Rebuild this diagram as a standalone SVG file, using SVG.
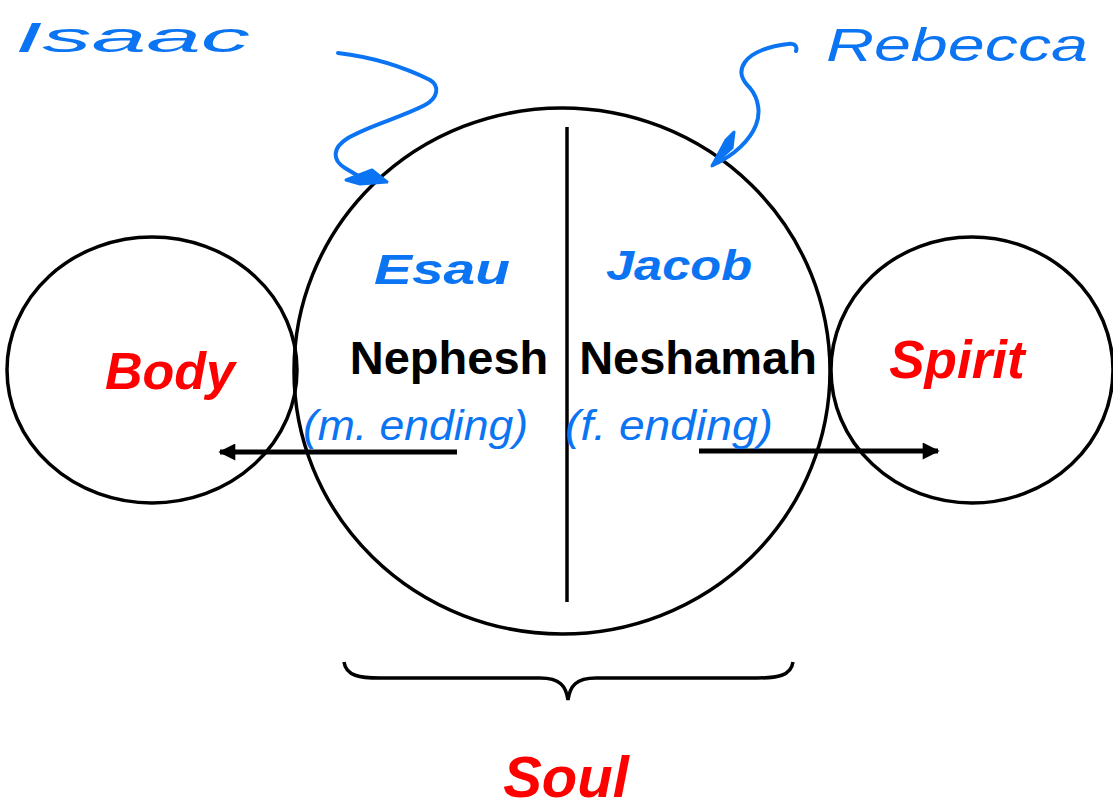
<svg xmlns="http://www.w3.org/2000/svg" width="1113" height="810" viewBox="0 0 1113 810">
<style>
.ring{fill:none;stroke:#000;stroke-width:3.5}
.lbl{font-family:"Liberation Sans",Arial,sans-serif;font-weight:bold;font-style:italic;fill:#ff0000}
.blk{font-family:"Liberation Sans",Arial,sans-serif;font-weight:bold;fill:#000}
.hand{font-family:"Liberation Sans",Arial,sans-serif;font-style:italic;fill:#0b74f2}
.ink{fill:none;stroke:#0b74f2;stroke-width:4;stroke-linecap:round;stroke-linejoin:round}
.conn{stroke:#000;stroke-width:5;fill:none}
</style>
<defs>
<marker id="ah" viewBox="0 0 10 10" refX="9" refY="5" markerWidth="4" markerHeight="3.4" orient="auto" markerUnits="strokeWidth">
<path d="M0,0 L10,5 L0,10 z" fill="#000"/>
</marker>
</defs>
<rect width="1113" height="810" fill="#fff"/>
<g id="body">
<ellipse class="ring" cx="152" cy="370" rx="145" ry="133"/>
<text class="lbl" x="170" y="389" font-size="52" text-anchor="middle">Body</text>
</g>
<g id="soul">
<ellipse class="ring" cx="562" cy="371" rx="268" ry="263"/>
<line x1="567" y1="127" x2="567" y2="602" stroke="#000" stroke-width="3.5"/>
<text class="blk" x="449" y="374" font-size="47" text-anchor="middle">Nephesh</text>
<text class="blk" x="698" y="374" font-size="47" text-anchor="middle">Neshamah</text>
<path d="M344,662 C346,676 360,678 380,678 L540,678 C560,678 566,686 568,700 C570,686 576,678 596,678 L757,678 C777,678 791,676 793,662" fill="none" stroke="#000" stroke-width="3.5"/>
<text class="lbl" x="566" y="797" font-size="58" text-anchor="middle">Soul</text>
</g>
<g id="spirit">
<ellipse class="ring" cx="972" cy="370" rx="141" ry="133"/>
<text class="lbl" x="957" y="378" font-size="53" text-anchor="middle">Spirit</text>
</g>
<g id="connectors">
<line class="conn" x1="457" y1="452" x2="220" y2="452" marker-end="url(#ah)"/>
<line class="conn" x1="699" y1="451" x2="938" y2="451" marker-end="url(#ah)"/>
</g>
<g id="annotations">
<text class="hand" x="15" y="52" font-size="42" textLength="235" lengthAdjust="spacingAndGlyphs">Isaac</text>
<path class="ink" d="M338,53 C380,58 410,70 430,80 C440,86 438,98 425,105 C400,118 370,125 348,138 C332,148 332,160 345,168 L360,177"/>
<path d="M346,180 L372,170 L387,182 L360,184 z" fill="#0b74f2" stroke="#0b74f2" stroke-width="3" stroke-linejoin="round"/>
<text class="hand" x="826" y="61" font-size="46" textLength="262" lengthAdjust="spacingAndGlyphs">Rebecca</text>
<path class="ink" d="M796,51 C798,45 793,43 788,44 C770,46 752,52 745,62 C738,72 742,80 750,88 C760,100 760,115 756,125 C750,140 735,155 713,165" stroke-width="3"/>
<path d="M712,166 L726,140 L734,132 L732,148 z" fill="#0b74f2" stroke="#0b74f2" stroke-width="3" stroke-linejoin="round"/>
<text class="hand" x="374" y="284" font-size="42" font-weight="bold" textLength="136" lengthAdjust="spacingAndGlyphs">Esau</text>
<text class="hand" x="606" y="280" font-size="42" font-weight="bold" textLength="146" lengthAdjust="spacingAndGlyphs">Jacob</text>
<text class="hand" x="303" y="440" font-size="42" textLength="225" lengthAdjust="spacingAndGlyphs">(m. ending)</text>
<text class="hand" x="565" y="440" font-size="42" textLength="208" lengthAdjust="spacingAndGlyphs">(f. ending)</text>
</g>
</svg>
